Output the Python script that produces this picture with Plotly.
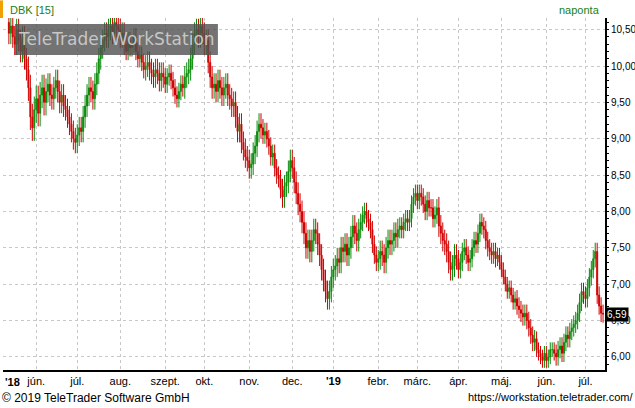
import pandas as pd
import plotly.graph_objects as go

closes = [
10.45,10.55,10.40,10.30,10.50,10.35,10.20,10.40,10.10,9.95,
9.70,9.30,9.15,9.40,9.55,9.35,9.60,9.70,9.50,9.65,
9.75,9.60,9.55,9.70,9.80,9.65,9.50,9.60,9.45,9.40,
9.30,9.20,9.10,9.00,8.95,9.05,9.15,9.10,9.30,9.45,
9.60,9.70,9.65,9.55,9.75,9.90,10.10,10.25,10.35,10.45,
10.40,10.50,10.55,10.45,10.60,10.55,10.50,10.40,10.45,10.30,10.20,
10.35,10.25,10.30,10.40,10.20,10.10,10.15,10.05,9.95,10.00,
10.05,9.95,9.90,9.85,9.95,9.90,9.80,9.90,9.85,9.75,
9.85,9.90,9.80,9.70,9.60,9.55,9.65,9.75,9.70,9.85,9.90,
9.95,10.10,10.30,10.45,10.50,10.40,10.55,10.45,10.30,10.35,
10.05,9.85,9.70,9.75,9.65,9.80,9.70,9.60,9.70,9.75,
9.60,9.55,9.45,9.50,9.30,9.10,9.20,8.95,8.85,8.75,8.70,
8.60,8.65,8.80,8.90,9.10,9.20,9.15,9.05,9.10,9.00,
8.90,8.75,8.80,8.60,8.50,8.45,8.30,8.20,8.35,8.40,
8.55,8.70,8.60,8.40,8.25,8.10,8.00,7.85,7.70,7.50,7.60,
7.45,7.60,7.75,7.70,7.55,7.40,7.20,7.05,6.90,6.80,
6.90,7.10,7.20,7.25,7.35,7.30,7.50,7.45,7.55,7.40,
7.50,7.65,7.80,7.70,7.60,7.75,7.85,7.95,8.00,7.90,7.85,
7.75,7.55,7.40,7.30,7.35,7.45,7.40,7.30,7.50,7.60,
7.55,7.60,7.70,7.65,7.75,7.80,7.75,7.85,7.90,7.85,
7.90,8.10,8.20,8.25,8.15,8.25,8.20,8.10,8.00,8.15,8.05,
8.05,7.90,7.95,8.05,7.80,7.70,7.60,7.55,7.45,7.30,
7.20,7.25,7.40,7.35,7.20,7.30,7.45,7.50,7.40,7.30,
7.35,7.50,7.60,7.55,7.70,7.85,7.80,7.75,7.60,7.50,7.45,
7.40,7.45,7.35,7.40,7.30,7.20,7.10,7.00,6.90,6.95,
6.85,6.75,6.80,6.70,6.65,6.60,6.55,6.60,6.50,6.40,
6.30,6.20,6.25,6.10,6.05,6.00,5.95,6.05,5.95,6.00,6.10,
6.10,6.05,6.00,6.10,6.15,6.05,6.20,6.30,6.25,6.35,
6.40,6.45,6.50,6.60,6.75,6.90,6.85,6.80,6.95,7.10,
7.20,7.35,7.45,6.85,6.70,6.60,6.59,
]
first_open = 10.60
wicks = [0.15,0.18,0.15,0.15,0.15,0.15,0.12,0.15,0.12,0.15,0.15,0.15,0.15,0.12,0.15,0.15,0.15,0.15,0.12,0.15,
         0.12,0.12,0.15,0.12,0.12,0.1,0.12,0.1,0.12,0.12,0.12]

tick_months = ["2018-06","2018-07","2018-08","2018-09","2018-10","2018-11","2018-12","2019-01",
               "2019-02","2019-03","2019-04","2019-05","2019-06","2019-07"]
tick_text = ["jún.","júl.","aug.","szept.","okt.","nov.","dec.","<b>'19</b>",
             "febr.","márc.","ápr.","máj.","jún.","júl."]
y_ticks = [6.0,6.5,7.0,7.5,8.0,8.5,9.0,9.5,10.0,10.5]

dates = pd.bdate_range("2018-05-14", periods=len(closes))
opens = [first_open] + closes[:-1]
highs, lows = [], []
for i,(o,c) in enumerate(zip(opens,closes)):
    w = wicks[(i//10) % len(wicks)]
    highs.append(max(o,c)+w)
    lows.append(min(o,c)-w)

tickvals = [pd.bdate_range(m+"-01", periods=1)[0] for m in tick_months]

fig = go.Figure(go.Candlestick(
    x=dates, open=opens, high=highs, low=lows, close=closes,
    increasing=dict(line=dict(color="#0a8a0a", width=1), fillcolor="#0a8a0a"),
    decreasing=dict(line=dict(color="#d00000", width=1), fillcolor="#d00000"),
    whiskerwidth=0, showlegend=False, hoverinfo="skip"))

grid = dict(showgrid=True, gridcolor="#c8c8c8", griddash="dot", gridwidth=1)
fig.update_layout(
    width=635, height=408, margin=dict(l=3, r=30, t=18, b=38, autoexpand=False),
    paper_bgcolor="white", plot_bgcolor="white",
    font=dict(family="Liberation Sans", size=11, color="black"),
    xaxis=dict(rangeslider=dict(visible=False), rangebreaks=[dict(bounds=["sat","mon"])],
               tickvals=tickvals, ticktext=tick_text, ticks="", tickfont=dict(size=11),
               range=[dates[0]-pd.Timedelta(days=5), dates[-1]+pd.Timedelta(days=2)],
               automargin=False,
               showline=True, linecolor="black", linewidth=2, mirror=False, **grid),
    yaxis=dict(side="right", range=[5.82, 10.66], tickvals=y_ticks, automargin=False,
               ticktext=[f"{v:.2f}".replace(".", ",") for v in y_ticks],
               ticks="outside", ticklen=2, tickcolor="black",
               minor=dict(dtick=0.1, ticks="outside", ticklen=2, tickcolor="black"),
               showline=True, linecolor="black", linewidth=2, tickfont=dict(size=10), **grid),
)
fig.add_shape(type="rect", xref="paper", yref="paper", x0=0.02, x1=0.357, y0=0.895, y1=0.983,
              fillcolor="rgba(80,80,80,0.8)", line_width=0, layer="above")
fig.add_annotation(xref="paper", yref="paper", x=0.188, y=0.939, xanchor="center", yanchor="middle",
                   text="TeleTrader WorkStation", showarrow=False,
                   font=dict(size=17, color="rgba(205,205,205,0.95)", family="DejaVu Sans"))
fig.add_shape(type="rect", xref="paper", yref="paper", x0=-0.005, x1=0.0, y0=1.0, y1=1.05,
              fillcolor="#f0a000", line_width=0)
fig.add_annotation(xref="paper", yref="paper", x=0.008, y=1.0, yanchor="bottom", xanchor="left",
                   text="DBK [15]", showarrow=False, font=dict(size=11, color="#208020"))
fig.add_annotation(xref="paper", yref="paper", x=0.995, y=1.0, yanchor="bottom", xanchor="right",
                   text="naponta", showarrow=False, font=dict(size=11, color="#208020"))
fig.add_annotation(xref="paper", yref="y", x=1.0, y=closes[-1], xanchor="left", yanchor="middle",
                   text=f"{closes[-1]:.2f}".replace(".", ","), showarrow=False,
                   bgcolor="black", font=dict(size=10, color="white"), borderpad=1)
fig.add_annotation(xref="paper", yref="paper", x=0.0, y=-0.012, xanchor="left", yanchor="top",
                   text="<b>'18</b>", showarrow=False, font=dict(size=11))
fig.add_annotation(xref="paper", yref="paper", x=-0.005, y=-0.055, xanchor="left", yanchor="top",
                   text="© 2019 TeleTrader Software GmbH", showarrow=False, font=dict(size=12))
fig.add_annotation(xref="paper", yref="paper", x=1.05, y=-0.055, xanchor="right", yanchor="top",
                   text="https://workstation.teletrader.com/", showarrow=False, font=dict(size=11))
fig.write_html("out.html", config={"displayModeBar": False},
               post_script="document.body.style.margin='0';document.body.style.overflow='hidden';")
